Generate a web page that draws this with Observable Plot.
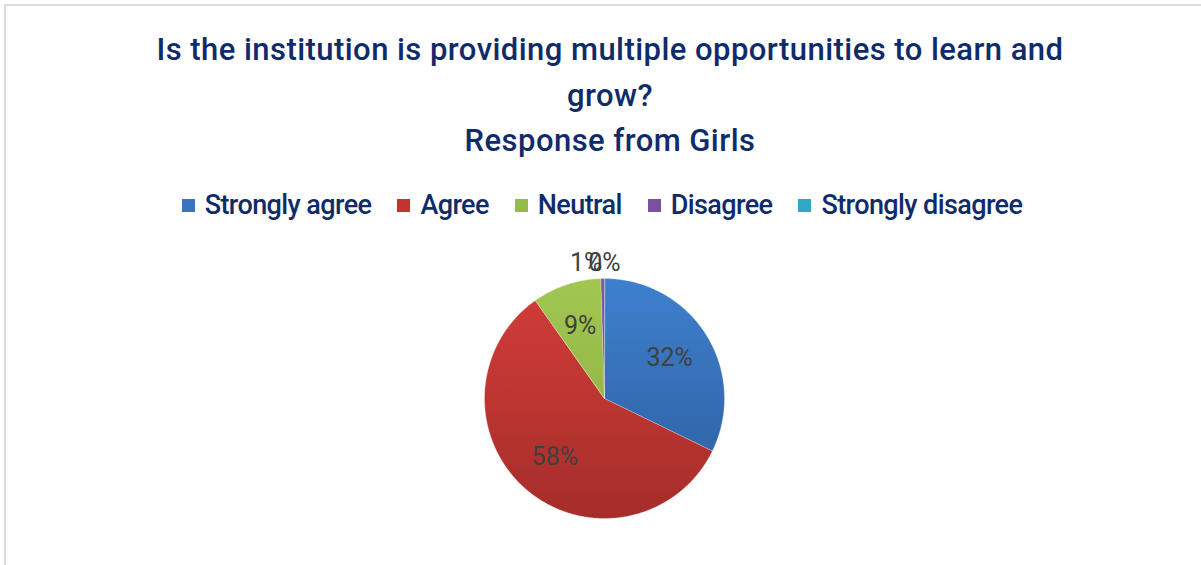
<!DOCTYPE html>
<html><head><meta charset="utf-8">
<script src="https://cdn.jsdelivr.net/npm/d3@7"></script>
<script src="https://cdn.jsdelivr.net/npm/@observablehq/plot@0.6"></script>
<style>
body{margin:0;background:#fff;width:1201px;height:565px;overflow:hidden;font-family:Roboto,sans-serif;position:relative;}
#frame{position:absolute;left:4px;top:4px;width:1240px;height:600px;border-top:2px solid #dcdcdc;border-left:2px solid #dcdcdc;}
#title{position:absolute;left:0;top:27px;width:1220px;text-align:center;color:#102B6A;font-size:31px;font-weight:500;letter-spacing:0.45px;line-height:45.5px;}
#legend{position:absolute;top:189px;left:0;width:1204px;height:32px;display:flex;justify-content:center;align-items:center;color:#102B6A;font-size:27px;font-weight:500;letter-spacing:-0.6px;}
#legend .item{display:flex;align-items:center;margin:0 13px;}
#legend .sw{width:13px;height:13px;margin-right:10px;}
#chart{position:absolute;left:0;top:235px;}
</style>
</head><body>
<div id="frame"></div>
<div id="title">Is the institution is providing multiple opportunities to learn and<br>grow?<br>Response from Girls</div>
<div id="legend"></div>
<div id="chart"></div>
<script>
const categories = ["Strongly agree", "Agree", "Neutral", "Disagree", "Strongly disagree"];
const shares = [32.2, 58.0, 9.3, 0.5, 0.0];
const swatchColors = ["#3A74C0", "#C4332F", "#95BC46", "#7B519F", "#31A6C6"];
const topColors = ["#3E80CE", "#D43D39", "#A2C652", "#8159A6", "#36AECF"];
const bottomColors = ["#2C5C9C", "#A52D29", "#86AC3C", "#6A4490", "#2690AE"];

// legend
const legend = d3.select("#legend");
categories.forEach((c, i) => {
  const it = legend.append("div").attr("class", "item");
  it.append("div").attr("class", "sw").style("background", swatchColors[i]);
  it.append("span").text(c);
});

const W = 1201, H = 330, R = 120, cx = 604, cy = 163;
const arcs = d3.pie().sort(null).value(d => d)(shares);
const polyPts = [];
arcs.forEach((a, i) => {
  if (a.endAngle - a.startAngle <= 0) return;
  polyPts.push({cat: categories[i], i, x: 0, y: 0});
  const n = Math.max(2, Math.ceil((a.endAngle - a.startAngle) / (Math.PI / 360)));
  for (let k = 0; k <= n; k++) {
    const t = a.startAngle + (a.endAngle - a.startAngle) * k / n;
    polyPts.push({cat: categories[i], i, x: Math.sin(t), y: Math.cos(t)});
  }
});
const labels = arcs.map((a, i) => {
  const mid = (a.startAngle + a.endAngle) / 2;
  const small = shares[i] < 2;
  const r = small ? 1.13 : 0.64;
  return {
    text: Math.round(shares[i]) + "%",
    x: Math.sin(mid) * r,
    y: Math.cos(mid) * r,
    anchor: small && Math.sin(mid) < -0.001 ? "end" : "middle"
  };
});

const xDom = [-cx / R, (W - cx) / R];
const yDom = [-(H - cy) / R, cy / R];
const svg = Plot.plot({
  width: W, height: H,
  margin: 0,
  x: {domain: xDom, axis: null},
  y: {domain: yDom, axis: null},
  color: {type: "identity"},
  style: {background: "transparent", fontFamily: "Roboto, sans-serif"},
  marks: [
    Plot.line(polyPts, {x: "x", y: "y", z: "cat", fill: d => `url(#grad${d.i})`, stroke: "#ffffff", strokeWidth: 0.6, strokeOpacity: 0.5, curve: "linear-closed"}),
    Plot.text(labels.filter(d => d.anchor === "middle"), {x: "x", y: "y", text: "text", fontSize: 25, fill: "#404040", textAnchor: "middle", lineAnchor: "middle"}),
    Plot.text(labels.filter(d => d.anchor === "end"), {x: "x", y: "y", text: "text", fontSize: 25, fill: "#404040", textAnchor: "end", lineAnchor: "middle"})
  ]
});
const defs = d3.select(svg).insert("defs", ":first-child");
topColors.forEach((c, i) => {
  const g = defs.append("linearGradient").attr("id", `grad${i}`)
    .attr("gradientUnits", "userSpaceOnUse")
    .attr("x1", 0).attr("x2", 0).attr("y1", cy - R).attr("y2", cy + R);
  g.append("stop").attr("offset", "0%").attr("stop-color", c);
  g.append("stop").attr("offset", "100%").attr("stop-color", bottomColors[i]);
});
document.getElementById("chart").appendChild(svg);
</script>
</body></html>
